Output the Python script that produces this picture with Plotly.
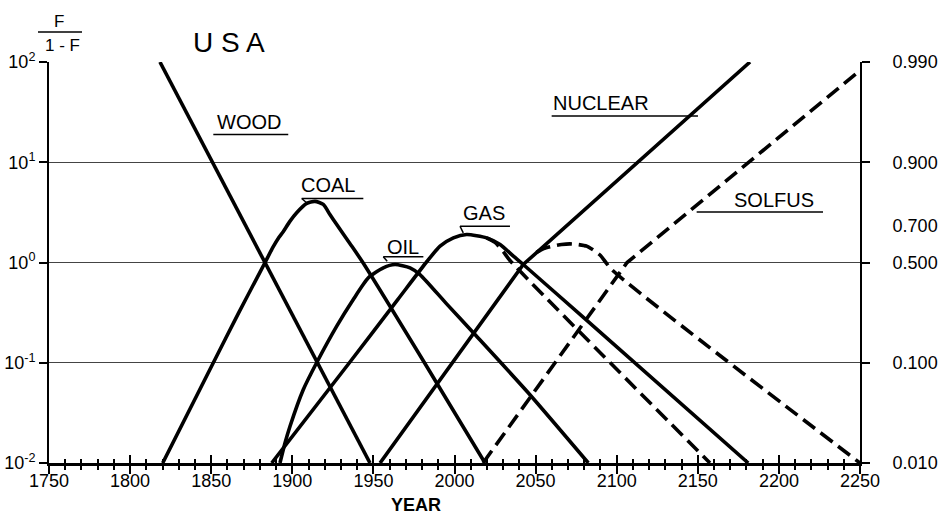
import numpy as np
import plotly.graph_objects as go

FONT = "Liberation Sans"

# ---- data: year vs log10( F / (1-F) ) ----
wood_year = [1818.4, 1947.9]
wood_log = [2.0, -2.0]

coal_year = [1820.1, 1851.3, 1867.0, 1878.0, 1883.2, 1888.0, 1891.5, 1894.5, 1898.5,
             1902.7, 1908.9, 1914.0, 1919.1, 1923.2, 1927.4, 1935.5, 1943.5, 1981.5, 2018.8]
coal_log = [-2.0, -1.0, -0.5, -0.16, 0.0, 0.15, 0.245, 0.31, 0.41,
            0.496, 0.589, 0.61, 0.579, 0.479, 0.379, 0.19, 0.0, -1.0, -2.0]

oil_year = [1892.4, 1895.5, 1898.6, 1906.8, 1915.0, 1927.4, 1937.6, 1946.9,
            1956.1, 1963.3, 1972.6, 1978.7, 1995.0, 2012.6, 2045.3, 2082.5]
oil_log = [-2.0, -1.8, -1.633, -1.267, -1.0, -0.635, -0.369, -0.153,
           -0.053, -0.02, -0.053, -0.12, -0.41, -0.718, -1.297, -2.0]

gas_year = [1887.3, 1935.2, 1965.0, 1983.0, 1991.1, 1999.3, 2007.5, 2019.8, 2028.1,
            2036.3, 2042.4, 2080.0, 2181.1]
gas_log = [-2.0, -1.0, -0.37, 0.01, 0.163, 0.246, 0.279, 0.246, 0.18,
           0.063, -0.02, -0.555, -2.0]

gas_solfus_year = [2019.8, 2025.0, 2030.0, 2034.2, 2157.5]
gas_solfus_log = [0.246, 0.2, 0.11, 0.02, -2.0]

nuclear_year = [1954.1, 2042.4, 2182.2]
nuclear_log = [-2.0, -0.02, 2.0]

nuclear_solfus_year = [2050.5, 2055.0, 2061.0, 2066.0, 2071.2, 2076.0, 2081.5,
                       2086.0, 2090.0, 2096.9, 2250.0]
nuclear_solfus_log = [0.1, 0.14, 0.165, 0.18, 0.186, 0.18, 0.163,
                      0.12, 0.07, -0.07, -2.0]

solfus_year = [2017.6, 2106.4, 2250.0]
solfus_log = [-2.0, 0.0, 1.915]

# ---- axis ticks ----
x_ticks = list(range(1750, 2251, 50))
left_tickvals = [0.01, 0.1, 1, 10, 100]
left_ticktext = ["10<sup>-2</sup>", "10<sup>-1</sup>", "10<sup>0</sup>",
                 "10<sup>1</sup>", "10<sup>2</sup>"]
right_tickvals = [100, 10, 7 / 3, 1, 0.1, 0.01]
right_ticktext = ["0.990", "0.900", "0.700", "0.500", "0.100", "0.010"]

# ---- curve labels (text, year, log10 position) ----
labels = ["WOOD", "COAL", "OIL", "GAS", "NUCLEAR", "SOLFUS"]
label_year = [1873.5, 1922.0, 1968.3, 2018.2, 2090.3, 2197.0]
label_log = [1.40, 0.773, 0.155, 0.489, 1.593, 0.623]
# underline segments (x0, x1, log y) and optional small leader end points
underline_x0 = [1851.3, 1905.8, 1956.1, 2003.4, 2059.9, 2149.3]
underline_x1 = [1897.5, 1943.8, 1980.8, 2034.2, 2150.1, 2227.2]
underline_log = [1.277, 0.638, 0.057, 0.362, 1.461, 0.504]
leader_end = [None, (1909.0, 0.594), (1958.5, 0.013), (2005.4, 0.296), None, None]

fig = go.Figure()

SOLID = dict(color="black", width=3.6)
DASH = dict(color="black", width=3.6, dash="15px,7px")


def add(xs, logs, line, shape="linear"):
    ln = dict(line)
    if shape == "spline":
        ln.update(shape="spline", smoothing=0.6)
    fig.add_trace(go.Scatter(x=xs, y=10 ** np.array(logs), mode="lines", line=ln,
                             showlegend=False, hoverinfo="skip"))


add(wood_year, wood_log, SOLID)
add(coal_year, coal_log, SOLID, "spline")
add(oil_year, oil_log, SOLID, "spline")
add(gas_year, gas_log, SOLID, "spline")
add(gas_solfus_year, gas_solfus_log, DASH, "spline")
add(nuclear_year, nuclear_log, SOLID)
add(nuclear_solfus_year, nuclear_solfus_log, DASH, "spline")
add(solfus_year, solfus_log, DASH)

# invisible helper traces so the overlay axes get drawn
fig.add_trace(go.Scatter(x=[2000], y=[1], xaxis="x2", yaxis="y", mode="markers",
                         marker=dict(opacity=0), showlegend=False, hoverinfo="skip"))
fig.add_trace(go.Scatter(x=[2000], y=[1], xaxis="x", yaxis="y2", mode="markers",
                         marker=dict(opacity=0), showlegend=False, hoverinfo="skip"))

# labels and underlines
for i, t in enumerate(labels):
    fig.add_annotation(x=label_year[i], y=label_log[i], xref="x", yref="y", text=t,
                       showarrow=False, xanchor="center", yanchor="middle",
                       font=dict(family=FONT, size=20, color="black"))
    uy = 10 ** underline_log[i]
    fig.add_shape(type="line", xref="x", yref="y", x0=underline_x0[i], x1=underline_x1[i],
                  y0=uy, y1=uy, line=dict(color="black", width=1.5))
    if leader_end[i] is not None:
        fig.add_shape(type="line", xref="x", yref="y", x0=underline_x0[i], y0=uy,
                      x1=leader_end[i][0], y1=10 ** leader_end[i][1],
                      line=dict(color="black", width=1.5))


# title and axis captions
def note(x, y, text, size):
    fig.add_annotation(x=x, y=y, xref="paper", yref="paper", text=text, showarrow=False,
                       xanchor="center", yanchor="middle",
                       font=dict(family=FONT, size=size, color="black"))


note(0.222, 1.0486, "U S A", 28)
note(0.0123, 1.102, "F", 17)
note(0.0166, 1.040, "1 - F", 17)
note(0.452, -0.104, "<b>YEAR</b>", 18)
fig.add_shape(type="line", xref="paper", yref="paper", x0=-0.0136, x1=0.0407,
              y0=1.0748, y1=1.0748, line=dict(color="black", width=1.5))

fig.update_layout(
    width=947, height=515,
    margin=dict(l=49, r=87, t=62, b=52),
    paper_bgcolor="white", plot_bgcolor="white",
    showlegend=False,
    xaxis=dict(range=[1750, 2250], tickvals=x_ticks, ticks="outside", ticklen=8,
               tickwidth=1.5, tickcolor="black", showline=True, linewidth=2.5,
               linecolor="black", showgrid=False, zeroline=False, automargin=False,
               ticklabelstandoff=-8,
               tickfont=dict(family=FONT, size=18, color="black"),
               minor=dict(dtick=10, tick0=1750, ticks="outside", ticklen=4,
                          tickwidth=1.5, tickcolor="black", showgrid=False)),
    xaxis2=dict(range=[1750, 2250], overlaying="x", anchor="y", side="bottom",
                tickvals=x_ticks, ticks="inside", ticklen=8, tickwidth=1.5,
                tickcolor="black", showticklabels=False, showline=False,
                showgrid=False, zeroline=False,
                minor=dict(dtick=10, tick0=1750, ticks="inside", ticklen=4,
                           tickwidth=1.5, tickcolor="black", showgrid=False)),
    yaxis=dict(type="log", range=[-2, 2], tickvals=left_tickvals, ticktext=left_ticktext,
               ticks="outside", ticklen=8, tickwidth=1.5, tickcolor="black",
               showline=True, linewidth=2, linecolor="black", mirror="ticks",
               showgrid=True, gridcolor="#444", gridwidth=1, zeroline=False,
               automargin=False, tickfont=dict(family=FONT, size=18, color="black")),
    yaxis2=dict(type="log", range=[-2, 2], overlaying="y", anchor="x", side="right",
                tickvals=right_tickvals, ticktext=right_ticktext, ticks="outside",
                ticklen=28, tickcolor="rgba(0,0,0,0)", showline=False, showgrid=False,
                zeroline=False, automargin=False,
                tickfont=dict(family=FONT, size=18, color="black")),
)

fig.write_html("out.html", config={"displayModeBar": False},
               post_script="document.body.style.margin='0';")
